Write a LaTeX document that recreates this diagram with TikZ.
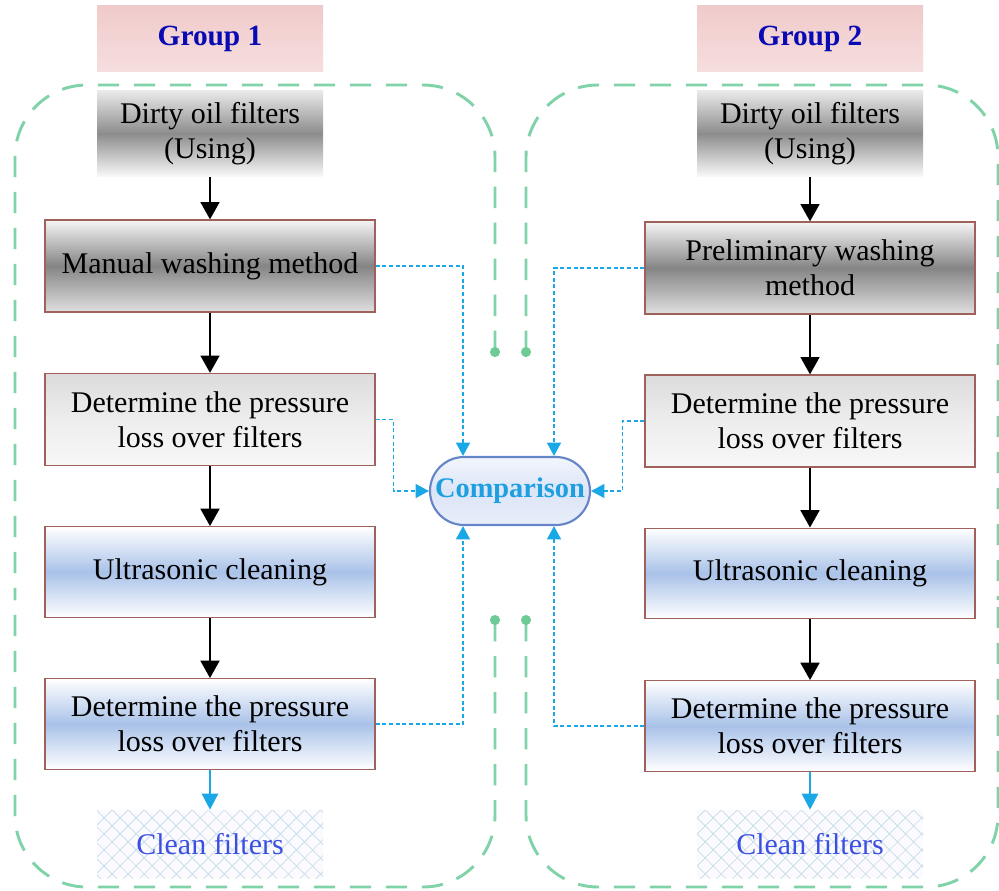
\documentclass[tikz,border=0pt]{standalone}
\usepackage{fontspec}
\setmainfont{Liberation Serif}
\usetikzlibrary{arrows.meta,shapes.misc,patterns.meta,calc}
\definecolor{grn}{HTML}{80D2A8}
\definecolor{dotgrn}{HTML}{6FCB96}
\definecolor{brd}{HTML}{A0605C}
\definecolor{cy}{HTML}{1AA7E6}
\definecolor{grptxt}{HTML}{0A0AB4}
\definecolor{cmptxt}{HTML}{1EA0E0}
\definecolor{cmpbrd}{HTML}{6585C8}
\definecolor{cleantxt}{HTML}{3B4FE0}
\definecolor{hatch}{HTML}{C4DAE8}
\definecolor{bluemid}{HTML}{A9C2E8}
\definecolor{pinktop}{HTML}{F0CACA}
\definecolor{pinkbot}{HTML}{F6DEDE}
\definecolor{cmptop}{HTML}{F2F5FC}
\definecolor{cmpmid}{HTML}{DCE5F7}
\definecolor{cmpbot}{HTML}{E8EEFA}
\begin{document}
\begin{tikzpicture}[x=0.75pt,y=-0.75pt,
  txt/.style={font=\fontsize{22.5}{26}\selectfont, align=center, inner sep=0pt},
  grpbox/.style={txt, font=\fontsize{22}{26}\selectfont\bfseries, text=grptxt,
    minimum width=169.5pt, minimum height=50pt, top color=pinktop, bottom color=pinkbot},
  dirtybox/.style={txt, minimum width=169.5pt, minimum height=65pt,
    top color=black!8, bottom color=black!2, middle color=black!45},
  greybox/.style={txt, draw=brd, line width=0.9pt, minimum width=247.5pt, minimum height=69pt,
    top color=black!4, bottom color=black!12, middle color=black!48},
  lightbox/.style={txt, draw=brd, line width=0.9pt, minimum width=247.5pt, minimum height=69pt,
    top color=black!14, bottom color=black!3, middle color=black!7},
  bluebox/.style={txt, draw=brd, line width=0.9pt, minimum width=247.5pt, minimum height=68pt,
    top color=white, bottom color=white, middle color=bluemid},
  cleanbox/.style={txt, text=cleantxt, minimum width=169.5pt, minimum height=51pt,
    preaction={fill=blue!2!white},
    preaction={pattern={Lines[angle=45,distance=8.5pt,line width=0.5pt]}, pattern color=hatch},
    pattern={Lines[angle=-45,distance=8.5pt,line width=0.5pt]}, pattern color=hatch},
  cmpbox/.style={rounded rectangle, draw=cmpbrd, line width=1.6pt, minimum width=120pt, minimum height=51pt,
    inner sep=0pt, font=\fontsize{21.3}{24}\selectfont\bfseries, text=cmptxt,
    top color=cmptop, bottom color=cmpbot, middle color=cmpmid},
  grpline/.style={draw=grn, line width=2.2pt, dash pattern=on 16pt off 11pt, rounded corners=54pt},
  blk/.style={draw=black, line width=2pt, -{Triangle[length=13pt,width=14pt]}},
  cyarr/.style={draw=cy, line width=2pt, -{Triangle[length=12pt,width=12pt]}},
  cyd/.style={draw=cy, line width=1.1pt, dash pattern=on 3pt off 2pt, -{Triangle[length=10pt,width=10.5pt]}}
]
\useasboundingbox (0,0) rectangle (999,890);

% group outlines
\coordinate (d1) at (495,352);
\coordinate (d2) at (495,620);
\coordinate (d3) at (526,352);
\coordinate (d4) at (526,620);
\path[grpline] (d1) -- (495,85) -- (15,85) -- (15,600);
\path[grpline] (d2) -- (495,887) -- (15,887) -- (15,600);
\path[grpline] (d3) -- (526,85) -- (998,85) -- (998,600);
\path[grpline] (d4) -- (526,887) -- (998,887) -- (998,600);
\foreach \d in {d1,d2,d3,d4} \fill[dotgrn] (\d) circle (3.8pt);

% left column
\node[grpbox] (g1) at (210,38.5) {Group 1};
\node[dirtybox,txt] (dirty1) at (210,133.5) {Dirty oil filters\\(Using)};
\node[greybox] (manual) at (210,266) {Manual washing method};
\node[lightbox] (det1) at (210,419.5) {Determine the pressure\\loss over filters};
\node[bluebox] (ultra1) at (210,572) {Ultrasonic cleaning};
\node[bluebox] (det2) at (210,724) {Determine the pressure\\loss over filters};
\node[cleanbox] (clean1) at (210,844) {Clean filters};

% right column
\node[grpbox] (g2) at (810,38.5) {Group 2};
\node[dirtybox,txt] (dirty2) at (810,133.5) {Dirty oil filters\\(Using)};
\node[greybox] (prelim) at (810,268) {Preliminary washing\\method};
\node[lightbox] (det3) at (810,421) {Determine the pressure\\loss over filters};
\node[bluebox] (ultra2) at (810,573.5) {Ultrasonic cleaning};
\node[bluebox] (det4) at (810,726) {Determine the pressure\\loss over filters};
\node[cleanbox] (clean2) at (810,844) {Clean filters};

% comparison
\node[cmpbox] (comp) at (510,491) {Comparison};

% flow arrows
\draw[blk] (dirty1) -- (manual);
\draw[blk] (manual) -- (det1);
\draw[blk] (det1) -- (ultra1);
\draw[blk] (ultra1) -- (det2);
\draw[cyarr] (det2) -- (clean1.north);
\draw[blk] (dirty2) -- (prelim);
\draw[blk] (prelim) -- (det3);
\draw[blk] (det3) -- (ultra2);
\draw[blk] (ultra2) -- (det4);
\draw[cyarr] (det4) -- (clean2.north);

% comparison links
\draw[cyd] (manual.east) -| ($(comp.north)+(-47,0)$);
\draw[cyd] (det1.east) -- ++(18,0) |- (comp.west);
\draw[cyd] (det2.east) -| ($(comp.south)+(-47,0)$);
\draw[cyd] (prelim.west) -| ($(comp.north)+(44,0)$);
\draw[cyd] (det3.west) -- ++(-22,0) |- (comp.east);
\draw[cyd] (det4.west) -| ($(comp.south)+(44,0)$);
\end{tikzpicture}
\end{document}
